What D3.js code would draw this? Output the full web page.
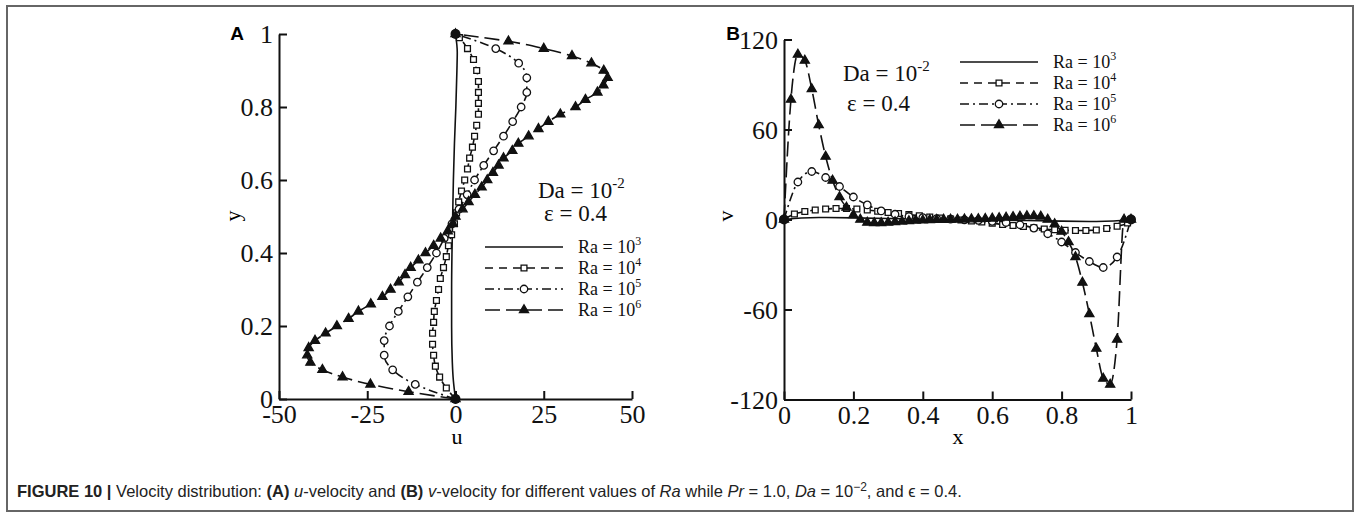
<!DOCTYPE html>
<html>
<head>
<meta charset="utf-8">
<script src="https://cdn.jsdelivr.net/npm/d3@7"></script>
<style>
  body { margin: 0; background: #fff; }
  svg { display: block; }
</style>
</head>
<body>
<svg id="chart" width="1358" height="513"></svg>
<script>
// Panel A: u along the vertical centreline (y is the independent value)
const aY3 = [0, 0.05, 0.1, 0.2, 0.3, 0.4, 0.5, 0.6, 0.7, 0.8, 0.9, 0.95, 1];
const aU3 = [0, -0.6, -0.9, -1.1, -1.1, -1.0, -0.8, -0.6, -0.3, 0.1, 0.4, 0.5, 0];

const aY4 = [0, .03, .06, .09, .12, .15, .18, .21, .24, .27, .30, .33, .36, .39, .42, .45, .48,
             .51, .54, .57, .60, .63, .66, .69, .72, .75, .78, .81, .84, .87, .90, .93, .96, .99, 1];
const aU4 = [0, -2.6, -4.5, -5.7, -6.2, -6.5, -6.5, -6.2, -6.0, -5.4, -4.8, -4.3, -3.4, -2.6, -2.0, -1.1, -0.3,
             0.3, 0.9, 1.7, 2.6, 3.4, 4.0, 4.8, 5.4, 6.0, 6.5, 6.5, 6.5, 6.5, 6.0, 5.1, 3.4, 1.1, 0];

const aY5 = [0, .04, .08, .12, .16, .20, .24, .28, .32, .36, .40, .44, .48,
             .52, .56, .60, .64, .68, .72, .76, .80, .84, .88, .92, .96, 1];
const aU5 = [0, -11.4, -17.8, -20.2, -20.2, -18.7, -16.2, -13.5, -10.8, -8.0, -5.4, -3.2, -1.0,
             1.0, 3.3, 5.4, 8.0, 10.8, 13.6, 16.2, 18.6, 20.2, 20.2, 17.9, 11.4, 0];

const aY6 = [0, .02, .04, .06, .08, .10, .12, .14, .16, .18, .20, .22, .24, .26, .28, .30, .32, .34, .36, .38, .40,
             .42, .44, .46, .48, .50, .52, .54, .56, .58, .60, .62, .64, .66, .68, .70, .72, .74, .76, .78, .80,
             .82, .84, .86, .88, .90, .92, .94, .96, .98, 1];
const aU6 = [0, -13.3, -24.1, -32, -37.7, -41.1, -42, -41.6, -39.8, -36.8, -33.6, -30.3, -27.5, -24, -20.7, -18.4, -16.1, -14.3, -12.7, -10.5, -8.5,
             -6.2, -4.2, -2.2, -0.8, 0, 2.0, 3.7, 5.5, 7.4, 9.0, 10.6, 12.2, 13.6, 16.1, 17.8, 20.7, 23.5, 26.3, 29.7, 34,
             36.8, 40.2, 41.9, 43.1, 42, 38.5, 33, 25, 15, 0];

// Panel B: v along the horizontal centreline
const bX3 = [0, 0.05, 0.1, 0.2, 0.3, 0.4, 0.5, 0.6, 0.7, 0.8, 0.9, 0.95, 1];
const bV3 = [0, 1.0, 1.3, 1.1, 0.7, 0.3, 0, -0.3, -0.7, -1.1, -1.3, -1.0, 0];

const bX4 = aY4;
const bV4 = [0, 3.7, 5.3, 6.3, 7, 7.3, 7.3, 7, 6.3, 5.5, 4.7, 4, 3.3, 2.5, 1.7, 1, 0.3,
             -0.3, -1, -1.7, -2.5, -3.3, -4, -4.7, -5.5, -6.3, -6.8, -7.2, -7.3, -7.3, -7, -6, -4.5, -2.3, 0];

const bX5 = aY5;
const bV5 = [0, 25, 32, 28, 22, 15, 9.7, 5.7, 3.5, 2, 1.2, 0.6, 0.2,
             -0.2, -0.6, -1.2, -2, -3.5, -5.7, -9.5, -15, -22, -28, -32, -25, 0];

const bX6 = aY6;
const bV6 = [0, 80, 110, 106, 87, 63, 42, 26, 15, 8, 3, 0, -2, -2.3, -2.3, -2, -1.7, -1.3, -1, -0.7, -0.5,
             -0.3, -0.2, -0.1, 0, 0, 0.1, 0.2, 0.3, 0.5, 0.7, 1, 1.3, 1.7, 2, 2.3, 2.3, 2, 0, -3, -8,
             -15, -25, -42, -63, -86, -106, -110, -80, 0, 0];

const seriesNames = ['Ra = 10', 'Ra = 10', 'Ra = 10', 'Ra = 10'];
const seriesExp = ['3', '4', '5', '6'];
const ticksA_x = [-50, -25, 0, 25, 50];
const ticksA_y = [0, 0.2, 0.4, 0.6, 0.8, 1];
const ticksB_x = [0, 0.2, 0.4, 0.6, 0.8, 1];
const ticksB_y = [-120, -60, 0, 60, 120];

const styles = [
  { dash: null, marker: null },
  { dash: '8,6', marker: 'square' },
  { dash: '9,4,2,4', marker: 'circle' },
  { dash: '15,6', marker: 'triangle' }
];

const svg = d3.select('#chart');
const serif = '"Liberation Serif", "Times New Roman", serif';

svg.append('rect')
  .attr('x', 7).attr('y', 6).attr('width', 1346).attr('height', 505)
  .attr('fill', 'none').attr('stroke', '#666').attr('stroke-width', 2);

function zip(xs, ys) { return xs.map((x, i) => [x, ys[i]]); }

function drawMarkers(g, pts, kind) {
  if (!kind) return;
  const type = kind === 'square' ? d3.symbolSquare : kind === 'circle' ? d3.symbolCircle : d3.symbolTriangle;
  const size = kind === 'square' ? 34 : kind === 'circle' ? 44 : 36;
  g.selectAll(null).data(pts).enter().append('path')
    .attr('d', d3.symbol().type(type).size(size))
    .attr('transform', d => `translate(${d[0]},${d[1]})`)
    .attr('fill', kind === 'triangle' ? '#111' : 'white')
    .attr('stroke', '#111')
    .attr('stroke-width', 1.3);
}

function drawAxes(g, x, y, xt, yt, xMinor, yMinor, fmtX, fmtY) {
  const x0 = x.range()[0], y0 = y.range()[0];
  const gx = g.append('g').attr('transform', `translate(0,${y0})`);
  gx.call(d3.axisBottom(x).tickValues(xMinor).tickSize(-4).tickSizeOuter(0).tickFormat(''));
  gx.call(d3.axisBottom(x).tickValues(xt).tickSize(-8).tickSizeOuter(0).tickFormat(fmtX).tickPadding(24));
  const gy = g.append('g').attr('transform', `translate(${x0},0)`);
  gy.call(d3.axisLeft(y).tickValues(yMinor).tickSize(-4).tickSizeOuter(0).tickFormat(''));
  gy.call(d3.axisLeft(y).tickValues(yt).tickSize(-8).tickSizeOuter(0).tickFormat(fmtY).tickPadding(6));
  g.selectAll('.domain, .tick line').attr('stroke', '#111').attr('stroke-width', 2);
  g.selectAll('.tick text').attr('font-family', serif).attr('font-size', 26).attr('fill', '#111');
  gx.selectAll('.tick text').attr('dy', null).attr('y', 24);
  gy.selectAll('.tick text').attr('dy', '0.33em');
}

function drawLegend(g, x0, rows) {
  rows.forEach((yy, i) => {
    const st = styles[i];
    g.append('line').attr('x1', x0).attr('x2', x0 + 78).attr('y1', yy).attr('y2', yy)
      .attr('stroke', '#111').attr('stroke-width', 1.6).attr('stroke-dasharray', st.dash);
    drawMarkers(g, [[x0 + 39, yy]], st.marker);
    const t = g.append('text').attr('x', x0 + 93).attr('y', yy + 6)
      .attr('font-family', serif).attr('font-size', 18).attr('fill', '#111');
    t.append('tspan').text(seriesNames[i]);
    t.append('tspan').attr('dy', -8).attr('font-size', 12).text(seriesExp[i]);
  });
}

function drawNote(g, x1, y1, x2, y2) {
  const t = g.append('text').attr('x', x1).attr('y', y1)
    .attr('font-family', serif).attr('font-size', 23).attr('fill', '#111');
  t.append('tspan').text('Da = 10');
  t.append('tspan').attr('dy', -10).attr('font-size', 15).text('-2');
  g.append('text').attr('x', x2).attr('y', y2)
    .attr('font-family', serif).attr('font-size', 23).attr('fill', '#111')
    .text('\u03b5 = 0.4');
}

const fmtPlain = d => String(d);
const fmtDec = d => (d === 0 || d === 1) ? String(d) : d.toFixed(1);

// ---------- Panel A ----------
const xA = d3.scaleLinear().domain([-50, 50]).range([279, 632]);
const yA = d3.scaleLinear().domain([0, 1]).range([399, 34]);
const gA = svg.append('g');
drawAxes(gA, xA, yA, ticksA_x, ticksA_y, d3.range(-50, 50.1, 5), d3.range(0, 1.001, 0.04), fmtPlain, fmtDec);

const dataA = [zip(aU3, aY3), zip(aU4, aY4), zip(aU5, aY5), zip(aU6, aY6)];
const lineA = d3.line().x(d => xA(d[0])).y(d => yA(d[1])).curve(d3.curveMonotoneY);
dataA.forEach((pts, i) => {
  gA.append('path').attr('d', lineA(pts)).attr('fill', 'none')
    .attr('stroke', '#111').attr('stroke-width', 1.6).attr('stroke-dasharray', styles[i].dash);
});
dataA.forEach((pts, i) => {
  drawMarkers(gA, pts.map(d => [xA(d[0]), yA(d[1])]), styles[i].marker);
});
[dataA[2][0], dataA[2][dataA[2].length - 1]].forEach(d => {
  gA.append('circle').attr('cx', xA(d[0])).attr('cy', yA(d[1])).attr('r', 5).attr('fill', '#111');
});

gA.append('text').attr('x', 237).attr('y', 40).attr('text-anchor', 'middle')
  .attr('font-family', 'Arial, "Liberation Sans", sans-serif').attr('font-weight', 'bold')
  .attr('font-size', 19).text('A');
gA.append('text').attr('x', 457).attr('y', 444).attr('text-anchor', 'middle')
  .attr('font-family', serif).attr('font-size', 22).text('u');
gA.append('text').attr('transform', 'translate(240,216) rotate(-90)').attr('text-anchor', 'middle')
  .attr('font-family', serif).attr('font-size', 22).text('y');
drawNote(gA, 538, 198, 544, 221);
drawLegend(gA, 485, [247, 268, 289, 310]);

// ---------- Panel B ----------
const xB = d3.scaleLinear().domain([0, 1]).range([784, 1131]);
const yB = d3.scaleLinear().domain([-120, 120]).range([399.5, 39.5]);
const gB = svg.append('g');
drawAxes(gB, xB, yB, ticksB_x, ticksB_y, d3.range(0, 1.001, 0.05), d3.range(-120, 120.1, 12), fmtDec, fmtPlain);

const dataB = [zip(bX3, bV3), zip(bX4, bV4), zip(bX5, bV5), zip(bX6, bV6)];
const lineB = d3.line().x(d => xB(d[0])).y(d => yB(d[1])).curve(d3.curveMonotoneX);
dataB.forEach((pts, i) => {
  gB.append('path').attr('d', lineB(pts)).attr('fill', 'none')
    .attr('stroke', '#111').attr('stroke-width', 1.6).attr('stroke-dasharray', styles[i].dash);
});
dataB.forEach((pts, i) => {
  drawMarkers(gB, pts.map(d => [xB(d[0]), yB(d[1])]), styles[i].marker);
});
[dataB[2][0], dataB[2][dataB[2].length - 1]].forEach(d => {
  gB.append('circle').attr('cx', xB(d[0])).attr('cy', yB(d[1])).attr('r', 5).attr('fill', '#111');
});

gB.append('text').attr('x', 733).attr('y', 40).attr('text-anchor', 'middle')
  .attr('font-family', 'Arial, "Liberation Sans", sans-serif').attr('font-weight', 'bold')
  .attr('font-size', 19).text('B');
gB.append('text').attr('x', 958).attr('y', 444).attr('text-anchor', 'middle')
  .attr('font-family', serif).attr('font-size', 22).text('x');
gB.append('text').attr('transform', 'translate(733,216) rotate(-90)').attr('text-anchor', 'middle')
  .attr('font-family', serif).attr('font-size', 22).text('v');
drawNote(gB, 843, 81, 847, 111);
drawLegend(gB, 960, [62, 83, 104, 125]);

// ---------- Caption ----------
const cap = svg.append('text').attr('x', 17).attr('y', 497)
  .attr('font-family', '"Liberation Sans Narrow", "Arial Narrow", "Liberation Sans", sans-serif')
  .attr('font-size', 16.5).attr('fill', '#222');
const parts = [
  ['FIGURE 10 |', 'bold'], [' Velocity distribution: ', ''], ['(A)', 'bold'], [' ', ''], ['u', 'italic'],
  ['-velocity and ', ''], ['(B)', 'bold'], [' ', ''], ['v', 'italic'], ['-velocity for different values of ', ''],
  ['Ra', 'italic'], [' while ', ''], ['Pr', 'italic'], [' = 1.0, ', ''], ['Da', 'italic'], [' = 10', ''],
  ['\u22122', 'sup'], [', and \u03f5 = 0.4.', 'after']
];
parts.forEach(([txt, kind]) => {
  const ts = cap.append('tspan').text(txt);
  if (kind === 'bold') ts.attr('font-weight', 'bold');
  if (kind === 'italic') ts.attr('font-style', 'italic');
  if (kind === 'sup') ts.attr('dy', -6).attr('font-size', 12);
  if (kind === 'after') ts.attr('dy', 6);
});
</script>
</body>
</html>
